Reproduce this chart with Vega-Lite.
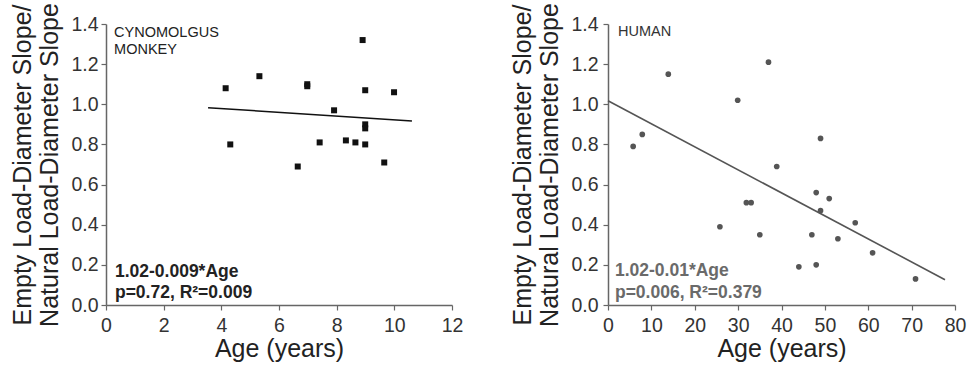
{
  "$schema": "https://vega.github.io/schema/vega-lite/v6.json",
  "padding": {"left": 10, "top": 2, "right": 5, "bottom": 0},
  "background": "white",
  "config": {
    "font": "Liberation Sans",
    "view": {"stroke": null},
    "axis": {
      "grid": false,
      "domainColor": "#666",
      "tickColor": "#666",
      "domainWidth": 1.5,
      "tickWidth": 1.2,
      "labelColor": "#333",
      "titleColor": "#222",
      "labelFontSize": 19.5,
      "titleFontSize": 25,
      "titleFontWeight": "normal",
      "labelFont": "Liberation Sans",
      "titleFont": "Liberation Sans",
      "labelOverlap": false,
      "labelFlush": false
    }
  },
  "spacing": 47,
  "hconcat": [
    {
      "width": 346,
      "height": 281,
      "layer": [
        {
          "data": {"values": [
            {"age": 4.15, "ratio": 1.08}, {"age": 4.31, "ratio": 0.80}, {"age": 5.32, "ratio": 1.14},
            {"age": 6.98, "ratio": 1.10}, {"age": 6.98, "ratio": 1.09}, {"age": 6.65, "ratio": 0.69},
            {"age": 7.41, "ratio": 0.81}, {"age": 7.91, "ratio": 0.97}, {"age": 8.32, "ratio": 0.82},
            {"age": 8.65, "ratio": 0.81}, {"age": 8.90, "ratio": 1.32}, {"age": 8.99, "ratio": 1.07},
            {"age": 8.99, "ratio": 0.90}, {"age": 8.99, "ratio": 0.88}, {"age": 8.99, "ratio": 0.80},
            {"age": 9.65, "ratio": 0.71}, {"age": 9.99, "ratio": 1.06}
          ]},
          "mark": {"type": "square", "size": 36, "color": "#111", "opacity": 1},
          "encoding": {
            "x": {"field": "age", "type": "quantitative", "scale": {"domain": [0, 12], "nice": false},
              "axis": {"title": "Age (years)", "values": [0,1,2,3,4,5,6,7,8,9,10,11,12],
                "labelExpr": "datum.value % 2 == 0 ? datum.label : ''",
                "tickSize": {"condition": {"test": "datum.value % 2 == 0", "value": 5}, "value": 3},
                "labelPadding": 6, "titlePadding": 2}},
            "y": {"field": "ratio", "type": "quantitative", "scale": {"domain": [0, 1.4], "nice": false},
              "axis": {"title": ["Empty Load-Diameter Slope/", "Natural Load-Diameter Slope"],
                "titleLineHeight": 27,
                "values": [0,0.1,0.2,0.3,0.4,0.5,0.6,0.7,0.8,0.9,1.0,1.1,1.2,1.3,1.4],
                "labelExpr": "round(datum.value*10) % 2 == 0 ? format(datum.value, '.1f') : ''",
                "tickSize": {"condition": {"test": "round(datum.value*10) % 2 == 0", "value": 5}, "value": 3},
                "labelPadding": 3, "titlePadding": 8}}
          }
        },
        {
          "data": {"values": [{"age": 3.54, "ratio": 0.983}, {"age": 10.61, "ratio": 0.917}]},
          "mark": {"type": "line", "color": "#111", "strokeWidth": 1.6},
          "encoding": {
            "x": {"field": "age", "type": "quantitative"},
            "y": {"field": "ratio", "type": "quantitative"}
          }
        },
        {
          "data": {"values": [
            {"age": 0.28, "ratio": 1.335, "label": "CYNOMOLGUS"},
            {"age": 0.28, "ratio": 1.25, "label": "MONKEY"}
          ]},
          "mark": {"type": "text", "align": "left", "baseline": "alphabetic", "fontSize": 14.5, "color": "#222"},
          "encoding": {
            "x": {"field": "age", "type": "quantitative"},
            "y": {"field": "ratio", "type": "quantitative"},
            "text": {"field": "label"}
          }
        },
        {
          "data": {"values": [
            {"age": 0.31, "ratio": 0.14, "label": "1.02-0.009*Age"},
            {"age": 0.31, "ratio": 0.035, "label": "p=0.72, R²=0.009"}
          ]},
          "mark": {"type": "text", "align": "left", "baseline": "alphabetic", "fontSize": 17.5, "fontWeight": "bold", "color": "#222"},
          "encoding": {
            "x": {"field": "age", "type": "quantitative"},
            "y": {"field": "ratio", "type": "quantitative"},
            "text": {"field": "label"}
          }
        }
      ]
    },
    {
      "width": 347,
      "height": 281,
      "layer": [
        {
          "data": {"values": [
            {"age": 5.8, "ratio": 0.79}, {"age": 7.9, "ratio": 0.85}, {"age": 13.9, "ratio": 1.15},
            {"age": 25.8, "ratio": 0.39}, {"age": 29.9, "ratio": 1.02}, {"age": 31.9, "ratio": 0.51},
            {"age": 33.0, "ratio": 0.51}, {"age": 35.0, "ratio": 0.35}, {"age": 37.0, "ratio": 1.21},
            {"age": 38.9, "ratio": 0.69}, {"age": 44.0, "ratio": 0.19}, {"age": 47.0, "ratio": 0.35},
            {"age": 48.0, "ratio": 0.56}, {"age": 48.0, "ratio": 0.20}, {"age": 49.0, "ratio": 0.83},
            {"age": 49.0, "ratio": 0.47}, {"age": 51.0, "ratio": 0.53}, {"age": 53.0, "ratio": 0.33},
            {"age": 57.0, "ratio": 0.41}, {"age": 61.0, "ratio": 0.26}, {"age": 70.9, "ratio": 0.13}
          ]},
          "mark": {"type": "circle", "size": 32, "color": "#555", "opacity": 1},
          "encoding": {
            "x": {"field": "age", "type": "quantitative", "scale": {"domain": [0, 80], "nice": false},
              "axis": {"title": "Age (years)", "values": [0,5,10,15,20,25,30,35,40,45,50,55,60,65,70,75,80],
                "labelExpr": "datum.value % 10 == 0 ? datum.label : ''",
                "tickSize": {"condition": {"test": "datum.value % 10 == 0", "value": 5}, "value": 3},
                "labelPadding": 6, "titlePadding": 2}},
            "y": {"field": "ratio", "type": "quantitative", "scale": {"domain": [0, 1.4], "nice": false},
              "axis": {"title": ["Empty Load-Diameter Slope/", "Natural Load-Diameter Slope"],
                "titleLineHeight": 27,
                "values": [0,0.1,0.2,0.3,0.4,0.5,0.6,0.7,0.8,0.9,1.0,1.1,1.2,1.3,1.4],
                "labelExpr": "round(datum.value*10) % 2 == 0 ? format(datum.value, '.1f') : ''",
                "tickSize": {"condition": {"test": "round(datum.value*10) % 2 == 0", "value": 5}, "value": 3},
                "labelPadding": 5, "titlePadding": 8}}
          }
        },
        {
          "data": {"values": [{"age": 0, "ratio": 1.018}, {"age": 77.7, "ratio": 0.126}]},
          "mark": {"type": "line", "color": "#555", "strokeWidth": 1.6},
          "encoding": {
            "x": {"field": "age", "type": "quantitative"},
            "y": {"field": "ratio", "type": "quantitative"}
          }
        },
        {
          "data": {"values": [
            {"age": 2.3, "ratio": 1.339, "label": "HUMAN"}
          ]},
          "mark": {"type": "text", "align": "left", "baseline": "alphabetic", "fontSize": 14.5, "color": "#333"},
          "encoding": {
            "x": {"field": "age", "type": "quantitative"},
            "y": {"field": "ratio", "type": "quantitative"},
            "text": {"field": "label"}
          }
        },
        {
          "data": {"values": [
            {"age": 1.6, "ratio": 0.144, "label": "1.02-0.01*Age"},
            {"age": 1.6, "ratio": 0.035, "label": "p=0.006, R²=0.379"}
          ]},
          "mark": {"type": "text", "align": "left", "baseline": "alphabetic", "fontSize": 17.5, "fontWeight": "bold", "color": "#6a6a6a"},
          "encoding": {
            "x": {"field": "age", "type": "quantitative"},
            "y": {"field": "ratio", "type": "quantitative"},
            "text": {"field": "label"}
          }
        }
      ]
    }
  ]
}
